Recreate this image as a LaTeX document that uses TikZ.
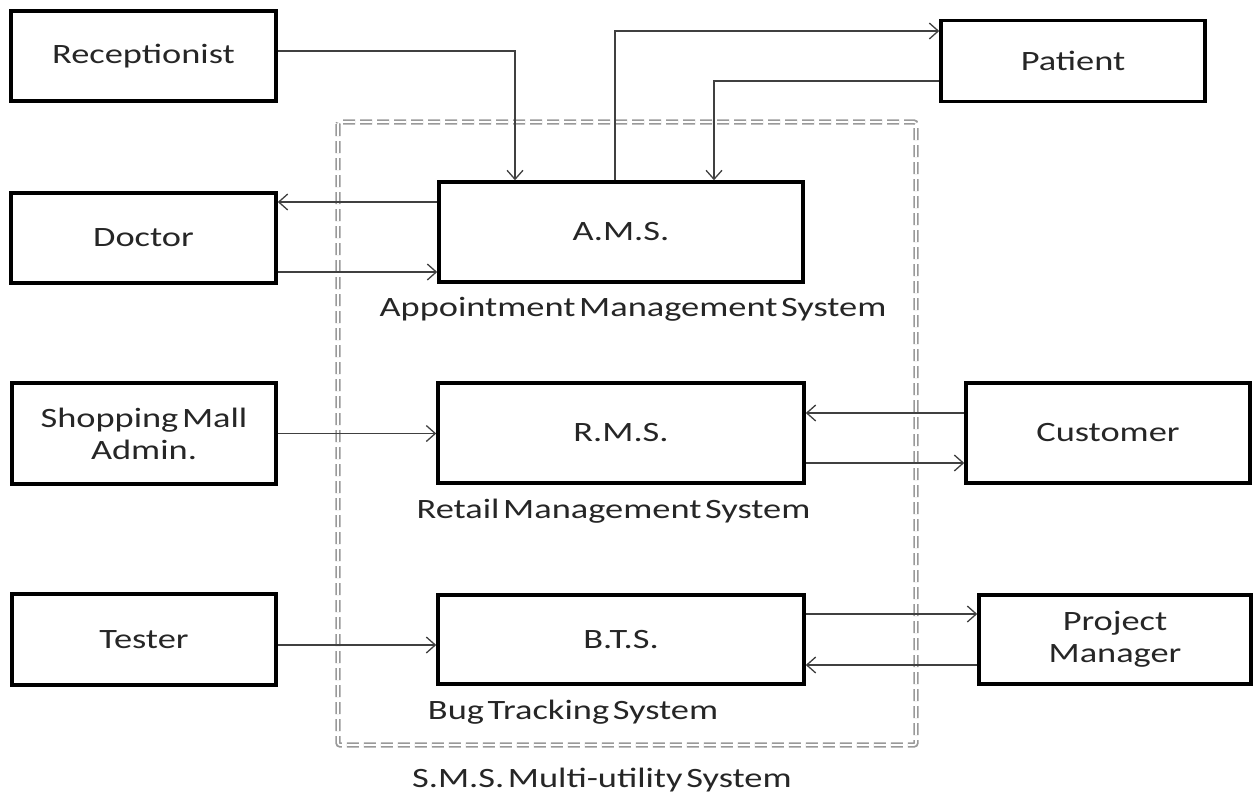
\documentclass[tikz,border=0pt]{standalone}
\usepackage{fontspec}
\setmainfont{Carlito}[FakeStretch=1.3, WordSpace=0.45]
\usetikzlibrary{arrows.meta}
\tikzset{
  box/.style={draw=black, line width=3.5pt, inner sep=0pt, align=center, text=black!85, font=\fontsize{28}{32}\selectfont},
  lbl/.style={inner sep=0pt, anchor=base, text=black!85, font=\fontsize{28}{32}\selectfont},
  arr/.style={draw=black!75, line width=1.3pt, -{Straight Barb[length=9pt,width=16pt,line width=1.3pt]}},
  frame/.style={draw=black!40, line width=1.8pt, double=white, double distance=1.6pt, dash pattern=on 12pt off 5pt, rounded corners=2pt}
}
\begin{document}
\begin{tikzpicture}[x=1pt,y=-1pt]
\useasboundingbox (0,0) rectangle (1253,795);
% frame
\draw[frame] (338,122) rectangle (916,745);
% boxes
\node[box, minimum width=265pt, minimum height=90pt] (rec) at (143.5,56) {Receptionist};
\node[box, minimum width=265pt, minimum height=90pt] (doc) at (143.5,238) {Doctor};
\node[box, minimum width=264pt, minimum height=101pt] (shop) at (144,433.5) {Shopping Mall\\Admin.};
\node[box, minimum width=264pt, minimum height=91pt] (tester) at (144,639.5) {Tester};
\node[box, minimum width=364pt, minimum height=100pt] (ams) at (621,232) {A.M.S.};
\node[box, minimum width=366pt, minimum height=100pt] (rms) at (621,433) {R.M.S.};
\node[box, minimum width=366pt, minimum height=89pt] (bts) at (621,639.5) {B.T.S.};
\node[box, minimum width=264pt, minimum height=81pt] (patient) at (1073,61) {Patient};
\node[box, minimum width=284pt, minimum height=100pt] (cust) at (1108,433) {Customer};
\node[box, minimum width=272pt, minimum height=89pt] (pm) at (1115,639.5) {Project\\Manager};
% labels
\node[lbl] (amsl) at (633,316) {Appointment Management System};
\node[lbl] (rmsl) at (613.5,518) {Retail Management System};
\node[lbl] (btsl) at (573,719) {Bug Tracking System};
\node[lbl] (smsl) at (602,787) {S.M.S. Multi-utility System};
% connectors
\draw[arr] ([yshift=5pt]rec.east) -| ([xshift=-106pt]ams.north);
\draw[arr] ([xshift=-6pt]ams.north) |- ([yshift=30pt]patient.west);
\draw[arr] ([yshift=-20pt]patient.west) -| ([xshift=93pt]ams.north);
\coordinate (a1) at ([yshift=30pt]ams.west);
\draw[arr] (a1) -- (a1 -| doc.east);
\coordinate (d1) at ([yshift=-34pt]doc.east);
\draw[arr] (d1) -- (d1 -| ams.west);
\coordinate (s1) at (shop.east);
\draw[arr] (s1) -- (s1 -| rms.west);
\coordinate (c1) at ([yshift=20pt]cust.west);
\draw[arr] (c1) -- (c1 -| rms.east);
\coordinate (r1) at ([yshift=-30pt]rms.east);
\draw[arr] (r1) -- (r1 -| cust.west);
\coordinate (t1) at ([yshift=-5.5pt]tester.east);
\draw[arr] (t1) -- (t1 -| bts.west);
\coordinate (b1) at ([yshift=25.5pt]bts.east);
\draw[arr] (b1) -- (b1 -| pm.west);
\coordinate (p1) at ([yshift=-25.5pt]pm.west);
\draw[arr] (p1) -- (p1 -| bts.east);
\end{tikzpicture}
\end{document}
